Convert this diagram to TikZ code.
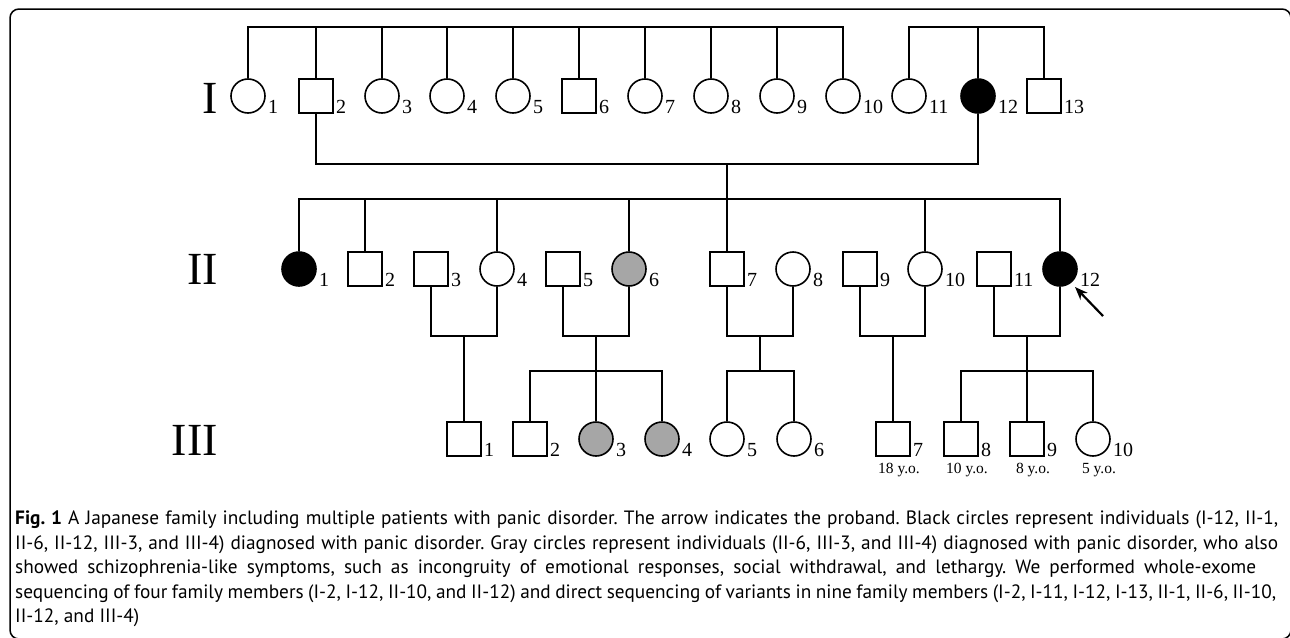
\documentclass[tikz,border=0pt]{standalone}
\usepackage{fontspec}
\setmainfont{Liberation Serif}
\newfontfamily\capfont{PT Sans}
\usetikzlibrary{arrows.meta,positioning,calc}
\definecolor{pgray}{HTML}{A6A6A6}
\tikzset{
  male/.style={rectangle,draw=black,fill=white,line width=1.6pt,minimum size=34pt,inner sep=0pt},
  female/.style={circle,draw=black,fill=white,line width=1.6pt,minimum size=34pt,inner sep=0pt},
  aff/.style={fill=black},
  part/.style={fill=pgray},
  num/.style={font=\fontsize{20}{20}\selectfont,inner sep=0pt,anchor=base west},
  gen/.style={font=\fontsize{46}{46}\selectfont,inner sep=0pt,anchor=east},
  age/.style={font=\fontsize{15.5}{15.5}\selectfont,inner sep=0pt,anchor=north},
  ln/.style={line width=1.6pt,draw=black},
  prb/.style={-{Stealth[length=13pt,width=10pt]},line width=2.2pt,draw=black},
}

\begin{document}
\begin{tikzpicture}[x=1pt,y=-1pt,
                    captext/.style={font=\capfont\fontsize{19.3}{24.5}\selectfont\frenchspacing,align=left,inner sep=0pt,anchor=north west}]
  \useasboundingbox (0,0) rectangle (1290,637);
  \draw[line width=1.5pt,rounded corners=9pt] (10,9) rectangle (1291,639);
  \coordinate (top1) at (0,27);
  \coordinate (mar1) at (0,164);
  \coordinate (sib2) at (0,199);
  \coordinate (mar2) at (0,336);
  \coordinate (sib3) at (0,371);

  \node[gen] (gI) at (218,98) {I};
  \node[gen] (gII) at (218,269) {II};
  \node[gen] (gIII) at (218,440) {III};

  \foreach \x/\s/\k [count=\i] in {248/female/,316/male/,382/female/,447/female/,513/female/,579/male/,645/female/,
                                   711/female/,777/female/,843/female/,909/female/,978/female/aff,1044/male/} {
    \node[\s,\k] (I\i) at (\x,96) {};
    \node[num] (nI\i) at ($(I\i.east |- I\i.south)+(2,0)$) {\i};
  }
  \foreach \x/\s/\k [count=\i] in {299/female/aff,365/male/,431/male/,497/female/,563/male/,629/female/part,
                                   727/male/,793/female/,860/male/,925/female/,994/male/,1060/female/aff} {
    \node[\s,\k] (II\i) at (\x,269) {};
    \node[num] (nII\i) at ($(II\i.east |- II\i.south)+(2,0)$) {\i};
  }
  \foreach \x/\s/\k [count=\i] in {464/male/,530/male/,596/female/part,662/female/part,727/female/,794/female/,
                                   893/male/,961/male/,1027/male/,1093/female/} {
    \node[\s,\k] (III\i) at (\x,439) {};
    \node[num] (nIII\i) at ($(III\i.east |- III\i.south)+(2,0)$) {\i};
  }
  \foreach \i/\a in {7/18,8/10,9/8,10/5}
    \node[age] (a\i) at ($(III\i.south)+(6,6)$) {\a\ y.o.};

  \draw[ln] (I1.north) |- (top1 -| I10) -- (I10.north);
  \foreach \i in {2,...,9} \draw[ln] (I\i.north) -- (I\i.north |- top1);
  \draw[ln] (I11.north) |- (top1 -| I13) -- (I13.north);
  \draw[ln] (I12.north) -- (I12.north |- top1);
  \draw[ln] (I2.south) |- (mar1 -| I12) -- (I12.south);
  \draw[ln] (II7.north) -- (II7.north |- mar1);

  \draw[ln] (II1.north) |- (sib2 -| II12) -- (II12.north);
  \foreach \i in {2,4,6,10} \draw[ln] (II\i.north) -- (II\i.north |- sib2);
  \foreach \a/\b in {3/4,5/6,7/8,9/10,11/12} {
    \draw[ln] (II\a.south) |- (mar2 -| II\b) -- (II\b.south);
    \coordinate (m\a) at ($(II\a.south |- mar2)!0.5!(II\b.south |- mar2)$);
  }

  \draw[ln] (III2.north) |- (sib3 -| III4) -- (III4.north);
  \draw[ln] (III5.north) |- (sib3 -| III6) -- (III6.north);
  \draw[ln] (III8.north) |- (sib3 -| III10) -- (III10.north);
  \draw[ln] (m7) -- (m7 |- sib3);
  \foreach \i in {1,3,7,9} \draw[ln] (III\i.north) -- (III\i.north |- mar2);

  \coordinate (pa) at (1103,316);
  \coordinate (pb) at (1075,287);
  \draw[prb] (pa) -- (pb);

  \node[captext] (caption) at (15,511) {%
    \makebox[1263pt][s]{\textbf{Fig. 1} A Japanese family including multiple patients with panic disorder. The arrow indicates the proband. Black circles represent individuals (I-12, II-1,}\\
    \makebox[1263pt][s]{II-6, II-12, III-3, and III-4) diagnosed with panic disorder. Gray circles represent individuals (II-6, III-3, and III-4) diagnosed with panic disorder, who also}\\
    \makebox[1241pt][s]{showed schizophrenia-like symptoms, such as incongruity of emotional responses, social withdrawal, and lethargy. We performed whole-exome}\\
    \makebox[1261pt][s]{sequencing of four family members (I-2, I-12, II-10, and II-12) and direct sequencing of variants in nine family members (I-2, I-11, I-12, I-13, II-1, II-6, II-10,}\\
    II-12, and III-4)};
\end{tikzpicture}
\end{document}
